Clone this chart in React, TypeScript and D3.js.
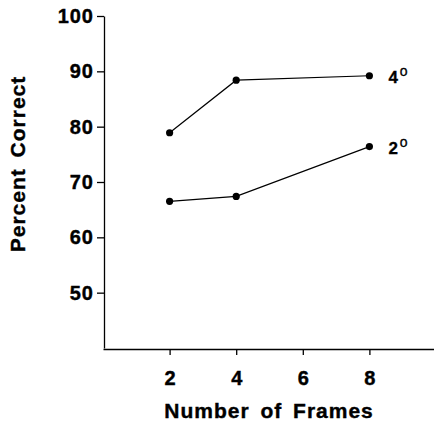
import React, { useEffect, useRef } from 'react';
import * as d3 from 'd3';

// values
const frames = [2, 4, 8];
const fourDegree = [78.9, 88.4, 89.2];
const twoDegree = [66.5, 67.4, 76.4];
const seriesLabels = ['4', '2'];
const xTicks = [2, 4, 6, 8];
const yTicks = [50, 60, 70, 80, 90, 100];

const WIDTH = 434;
const HEIGHT = 423;
const FONT = '"Liberation Sans", Arial, Helvetica, sans-serif';

const App: React.FC = () => {
  const svgRef = useRef<SVGSVGElement>(null);

  useEffect(() => {
    if (!svgRef.current) return;
    const svg = d3.select(svgRef.current);
    svg.selectAll('*').remove();

    const x = d3.scaleLinear().domain([0, 10]).range([103, 436]);
    const y = d3.scaleLinear().domain([40, 100]).range([348, 16]);

    // y axis
    const yAxis = svg.append('g')
      .attr('transform', `translate(${x(0) + 1},0)`)
      .call(d3.axisLeft(y).tickValues(yTicks).tickSize(7).tickPadding(3).tickSizeOuter(0));
    yAxis.selectAll('text')
      .style('font-family', FONT)
      .style('font-size', '20px')
      .style('font-weight', 'bold')
      .style('letter-spacing', '1px')
      .attr('fill', '#000');

    // x axis
    const xAxis = svg.append('g')
      .attr('transform', `translate(0,${y(40) + 1})`)
      .call(d3.axisBottom(x).tickValues(xTicks).tickSize(6).tickPadding(16).tickSizeOuter(0));
    xAxis.selectAll('text')
      .style('font-family', FONT)
      .style('font-size', '20px')
      .style('font-weight', 'bold')
      .attr('fill', '#000');

    svg.selectAll('.tick text')
      .attr('stroke', '#000')
      .attr('stroke-width', 0.4);

    svg.selectAll('.domain, .tick line')
      .attr('stroke', '#000')
      .attr('stroke-width', 1.3);

    // lines and points
    const series = [fourDegree, twoDegree];
    const line = d3.line<number>()
      .x((_, i) => x(frames[i]))
      .y(d => y(d));

    series.forEach((vals, si) => {
      svg.append('path')
        .attr('d', line(vals)!)
        .attr('fill', 'none')
        .attr('stroke', '#000')
        .attr('stroke-width', 1.2);

      svg.selectAll(`.pt${si}`)
        .data(vals)
        .enter()
        .append('circle')
        .attr('class', `pt${si}`)
        .attr('cx', (_, i) => x(frames[i]))
        .attr('cy', d => y(d))
        .attr('r', 3.6)
        .attr('fill', '#000');

      const last = vals[vals.length - 1];
      const lbl = svg.append('text')
        .attr('x', x(frames[frames.length - 1]) + 19)
        .attr('y', y(last) + 7)
        .style('font-family', FONT)
        .style('font-weight', 'bold')
        .style('font-size', '17px')
        .attr('stroke', '#000')
        .attr('stroke-width', 0.3)
        .attr('fill', '#000');
      lbl.append('tspan').text(seriesLabels[si]);
      lbl.append('tspan')
        .attr('dx', 2)
        .attr('dy', -7)
        .style('font-size', '14px')
        .style('font-weight', 'normal')
        .text('o');
    });

    // axis titles
    svg.append('text')
      .attr('x', 269)
      .attr('y', 418)
      .attr('text-anchor', 'middle')
      .style('font-family', FONT)
      .style('font-size', '21px')
      .style('font-weight', 'bold')
      .style('letter-spacing', '1px')
      .style('word-spacing', '4px')
      .attr('stroke', '#000')
      .attr('stroke-width', 0.4)
      .text('Number of Frames');

    svg.append('text')
      .attr('transform', `translate(25,164) rotate(-90)`)
      .attr('text-anchor', 'middle')
      .style('font-family', FONT)
      .style('font-size', '21px')
      .style('font-weight', 'bold')
      .style('letter-spacing', '1px')
      .style('word-spacing', '4px')
      .attr('stroke', '#000')
      .attr('stroke-width', 0.4)
      .text('Percent Correct');
  }, []);

  return (
    <svg
      ref={svgRef}
      width={WIDTH}
      height={HEIGHT}
      style={{ position: 'absolute', left: 0, top: 0, background: '#fff' }}
    />
  );
};

export default App;
